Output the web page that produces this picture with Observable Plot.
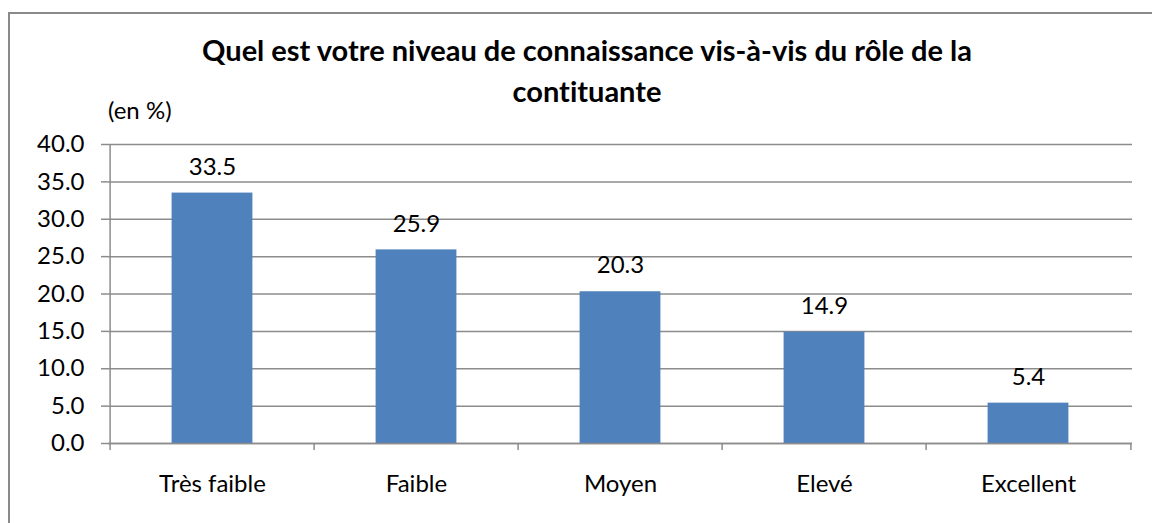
<!DOCTYPE html>
<html>
<head>
<meta charset="utf-8">
<script src="https://cdn.jsdelivr.net/npm/d3@7"></script>
<script src="https://cdn.jsdelivr.net/npm/@observablehq/plot@0.6"></script>
<style>
  html, body { margin: 0; padding: 0; background: #fff; }
  #wrap { position: relative; width: 1152px; height: 523px; overflow: hidden; background: #fff; font-family: Lato, sans-serif; color: #000; font-variant-ligatures: none; }
  #frame { position: absolute; left: 8px; top: 12px; width: 1300px; height: 700px; border-left: 2px solid #8a8a8a; border-top: 2px solid #8a8a8a; }
  #title { position: absolute; left: 0; top: 29px; width: 1174px; text-align: center; font-weight: bold; font-size: 29px; line-height: 41px; }
  #unit { position: absolute; left: 108px; top: 95px; font-size: 24px; }
  #chart { position: absolute; left: 0; top: 128px; }
  #chart svg text { font-variant-ligatures: none; }
</style>
</head>
<body>
<div id="wrap">
  <div id="frame"></div>
  <div id="title">Quel est votre niveau de connaissance vis-à-vis du rôle de la<br>contituante</div>
  <div id="unit">(en %)</div>
  <div id="chart"></div>
</div>
<script>
const categories = ["Très faible", "Faible", "Moyen", "Elevé", "Excellent"];
const values = [33.5, 25.9, 20.3, 14.9, 5.4];
const yTicks = [0, 5, 10, 15, 20, 25, 30, 35, 40];

const data = categories.map((c, i) => ({category: c, value: values[i]}));

const W = 1152, H = 395, ML = 108, MR = 20, MT = 16, MB = 80;
const plotH = H - MT - MB;
const step = (W - ML - MR) / categories.length;
const barW = 81.6;
const gray = "#8c8c8c";

const chart = Plot.plot({
  width: W,
  height: H,
  marginLeft: ML,
  marginRight: MR,
  marginTop: MT,
  marginBottom: MB,
  style: {fontFamily: "Lato, sans-serif", fontSize: "24px", color: "#000", background: "transparent", overflow: "visible"},
  x: {domain: categories, padding: 0, label: null},
  y: {domain: [0, 40], label: null},
  marks: [
    Plot.gridY(yTicks, {stroke: gray, strokeOpacity: 1, strokeWidth: 1.5}),
    Plot.barY(data, {x: "category", y: "value", fill: "#4F81BD", insetLeft: (step - barW) / 2, insetRight: (step - barW) / 2}),
    Plot.ruleX([categories[0]], {dx: -step / 2, stroke: gray, strokeWidth: 1.5}),
    Plot.ruleX(categories, {dx: -step / 2, stroke: gray, strokeWidth: 1.5, insetTop: plotH, insetBottom: -7}),
    Plot.ruleX([categories[categories.length - 1]], {dx: step / 2, stroke: gray, strokeWidth: 1.5, insetTop: plotH, insetBottom: -7}),
    Plot.ruleY([0], {stroke: gray, strokeWidth: 1.5}),
    Plot.axisY(yTicks, {tickSize: 7, tickPadding: 17, stroke: gray, strokeWidth: 1.5, tickFormat: d => d.toFixed(1), fontSize: 24, fill: "#000", label: null}),
    Plot.axisX({tickSize: 0, tickPadding: 31, fontSize: 24, fill: "#000", label: null}),
    Plot.text(data, {x: "category", y: "value", text: d => d.value.toFixed(1), dy: -26, fontSize: 24, fill: "#000"})
  ]
});
document.getElementById("chart").appendChild(chart);
</script>
</body>
</html>
